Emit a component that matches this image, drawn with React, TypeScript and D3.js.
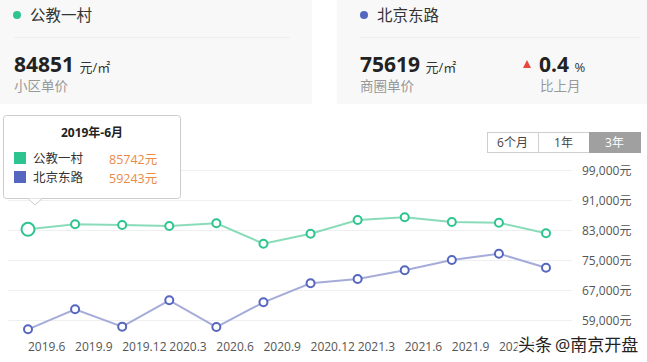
import React from 'react';
import * as d3 from 'd3';

const periods = ['2019.6', '2019.9', '2019.12', '2020.3', '2020.6', '2020.9', '2020.12', '2021.3', '2021.6', '2021.9', '2021.12', '2022.3'];
const xTickLabels = ['2019.6', '2019.9', '2019.12', '2020.3', '2020.6', '2020.9', '2020.12', '2021.3', '2021.6', '2021.9', '2021.12'];
const gongjiao = [83190, 84520, 84330, 84070, 84790, 79350, 82010, 85670, 86380, 85130, 84950, 82120];
const beijing = [56510, 61850, 57230, 64250, 57130, 63720, 68790, 69930, 72250, 75000, 76690, 72950];
const yTicks = [59000, 67000, 75000, 83000, 91000, 99000];
const rangeButtons = ['6个月', '1年', '3年'];
const seriesNames = ['公教一村', '北京东路'];
const tooltipTitle = '2019年-6月';
const tooltipValues = ['85742元', '59243元'];

const FONT = '"Open Sans", "Noto Sans CJK SC", sans-serif';
const GREEN = '#2ec48f';
const GREEN_LINE = '#8adcb9';
const BLUE = '#5566c0';
const BLUE_LINE = '#a6acda';

export default function App() {
  const W = 647, H = 362;
  const x = d3.scalePoint<string>().domain(periods).range([28, 546]);
  const y = d3.scaleLinear().domain([59000, 99000]).range([320, 170]);
  const line = d3.line<number>().x((_, i) => x(periods[i])!).y((d) => y(d));
  const fmt = d3.format(',');
  const btnX = d3.scaleBand().domain(rangeButtons).range([487, 640]);

  return (
    <div style={{ position: 'fixed', left: 0, top: 0 }}>
      <svg width={W} height={H} style={{ display: 'block', fontFamily: FONT }}>
        <rect width={W} height={H} fill="#fff" />
        {/* header cards */}
        <rect x={0} y={0} width={312} height={104} fill="#f8f8f8" />
        <rect x={337} y={0} width={310} height={104} fill="#f8f8f8" />
        <circle cx={17} cy={15} r={4} fill={GREEN} />
        <text x={30} y={21} fontSize={15.5} fill="#333">{seriesNames[0]}</text>
        <line x1={14} x2={290} y1={37.5} y2={37.5} stroke="#eeeeee" />
        <text x={14} y={72} fontSize={21} fontWeight="bold" fill="#222">84851 <tspan fontSize={13} fontWeight="normal" fill="#333">元/㎡</tspan></text>
        <text x={14} y={91} fontSize={13.5} fill="#999">小区单价</text>

        <circle cx={364} cy={15} r={4} fill={BLUE} />
        <text x={377} y={21} fontSize={15.5} fill="#333">{seriesNames[1]}</text>
        <line x1={360} x2={640} y1={37.5} y2={37.5} stroke="#eeeeee" />
        <text x={360} y={72} fontSize={21} fontWeight="bold" fill="#222">75619 <tspan fontSize={13} fontWeight="normal" fill="#333">元/㎡</tspan></text>
        <text x={360} y={91} fontSize={13.5} fill="#999">商圈单价</text>
        <path d="M523,68 L527,60 L531,68 Z" fill="#e8473f" />
        <text x={539} y={72} fontSize={21} fontWeight="bold" fill="#222">0.4 <tspan fontSize={13} fontWeight="normal" fill="#333">%</tspan></text>
        <text x={540} y={91} fontSize={13.5} fill="#999">比上月</text>

        {/* range buttons */}
        {rangeButtons.map((b, i) => (
          <g key={b}>
            <rect x={btnX(b)! + 0.5} y={132.5} width={btnX.bandwidth()} height={20} fill={i === 2 ? '#a0a0a0' : '#fff'} stroke={i === 2 ? '#a0a0a0' : '#cfcfcf'} />
            <text x={btnX(b)! + btnX.bandwidth() / 2} y={147} fontSize={12} textAnchor="middle" fill={i === 2 ? '#fff' : '#444'}>{b}</text>
          </g>
        ))}

        {/* grid + y labels */}
        {yTicks.map((t) => (
          <g key={t}>
            <line x1={8} x2={572} y1={Math.round(y(t)) + 0.5} y2={Math.round(y(t)) + 0.5} stroke="#efefef" />
            <text x={582} y={y(t) + 5} fontSize={12} fill="#555">{fmt(t)}元</text>
          </g>
        ))}

        {/* x labels */}
        {xTickLabels.map((p) => (
          <text key={p} x={x(p)!} y={351} fontSize={12} fill="#555">{p}</text>
        ))}

        {/* lines */}
        <path d={line(gongjiao)!} fill="none" stroke={GREEN_LINE} strokeWidth={2} />
        <path d={line(beijing)!} fill="none" stroke={BLUE_LINE} strokeWidth={2} />
        {gongjiao.map((v, i) => (
          <circle key={'g' + i} cx={x(periods[i])!} cy={y(v)} r={i === 0 ? 6.5 : 4} fill="#fff" stroke={GREEN} strokeWidth={2} />
        ))}
        {beijing.map((v, i) => (
          <circle key={'b' + i} cx={x(periods[i])!} cy={y(v)} r={4} fill="#fff" stroke={BLUE} strokeWidth={2} />
        ))}

        {/* tooltip */}
        <g>
          <rect x={3.5} y={115.5} width={177} height={83} rx={3} fill="#fff" stroke="#cccccc" />
          <path d="M28,198.5 L35,205 L42,198.5" fill="#fff" stroke="#cccccc" />
          <text x={92} y={137} fontSize={12} fontWeight="bold" textAnchor="middle" fill="#222">{tooltipTitle}</text>
          <rect x={14} y={152} width={12} height={12} fill={GREEN} />
          <rect x={14} y={171} width={12} height={12} fill={BLUE} />
          <text x={33} y={163} fontSize={12.5} fill="#333">{seriesNames[0]}</text>
          <text x={33} y={182} fontSize={12.5} fill="#333">{seriesNames[1]}</text>
          <text x={109} y={164} fontSize={12.5} fill="#ec8a48">{tooltipValues[0]}</text>
          <text x={109} y={183} fontSize={12.5} fill="#ec8a48">{tooltipValues[1]}</text>
        </g>

        {/* watermark */}
        <text x={518} y={351} fontSize={17} fill="#222" stroke="#fff" strokeWidth={3} style={{ paintOrder: 'stroke' }}>头条<tspan dx={3}>@南京开盘</tspan></text>
      </svg>
    </div>
  );
}
